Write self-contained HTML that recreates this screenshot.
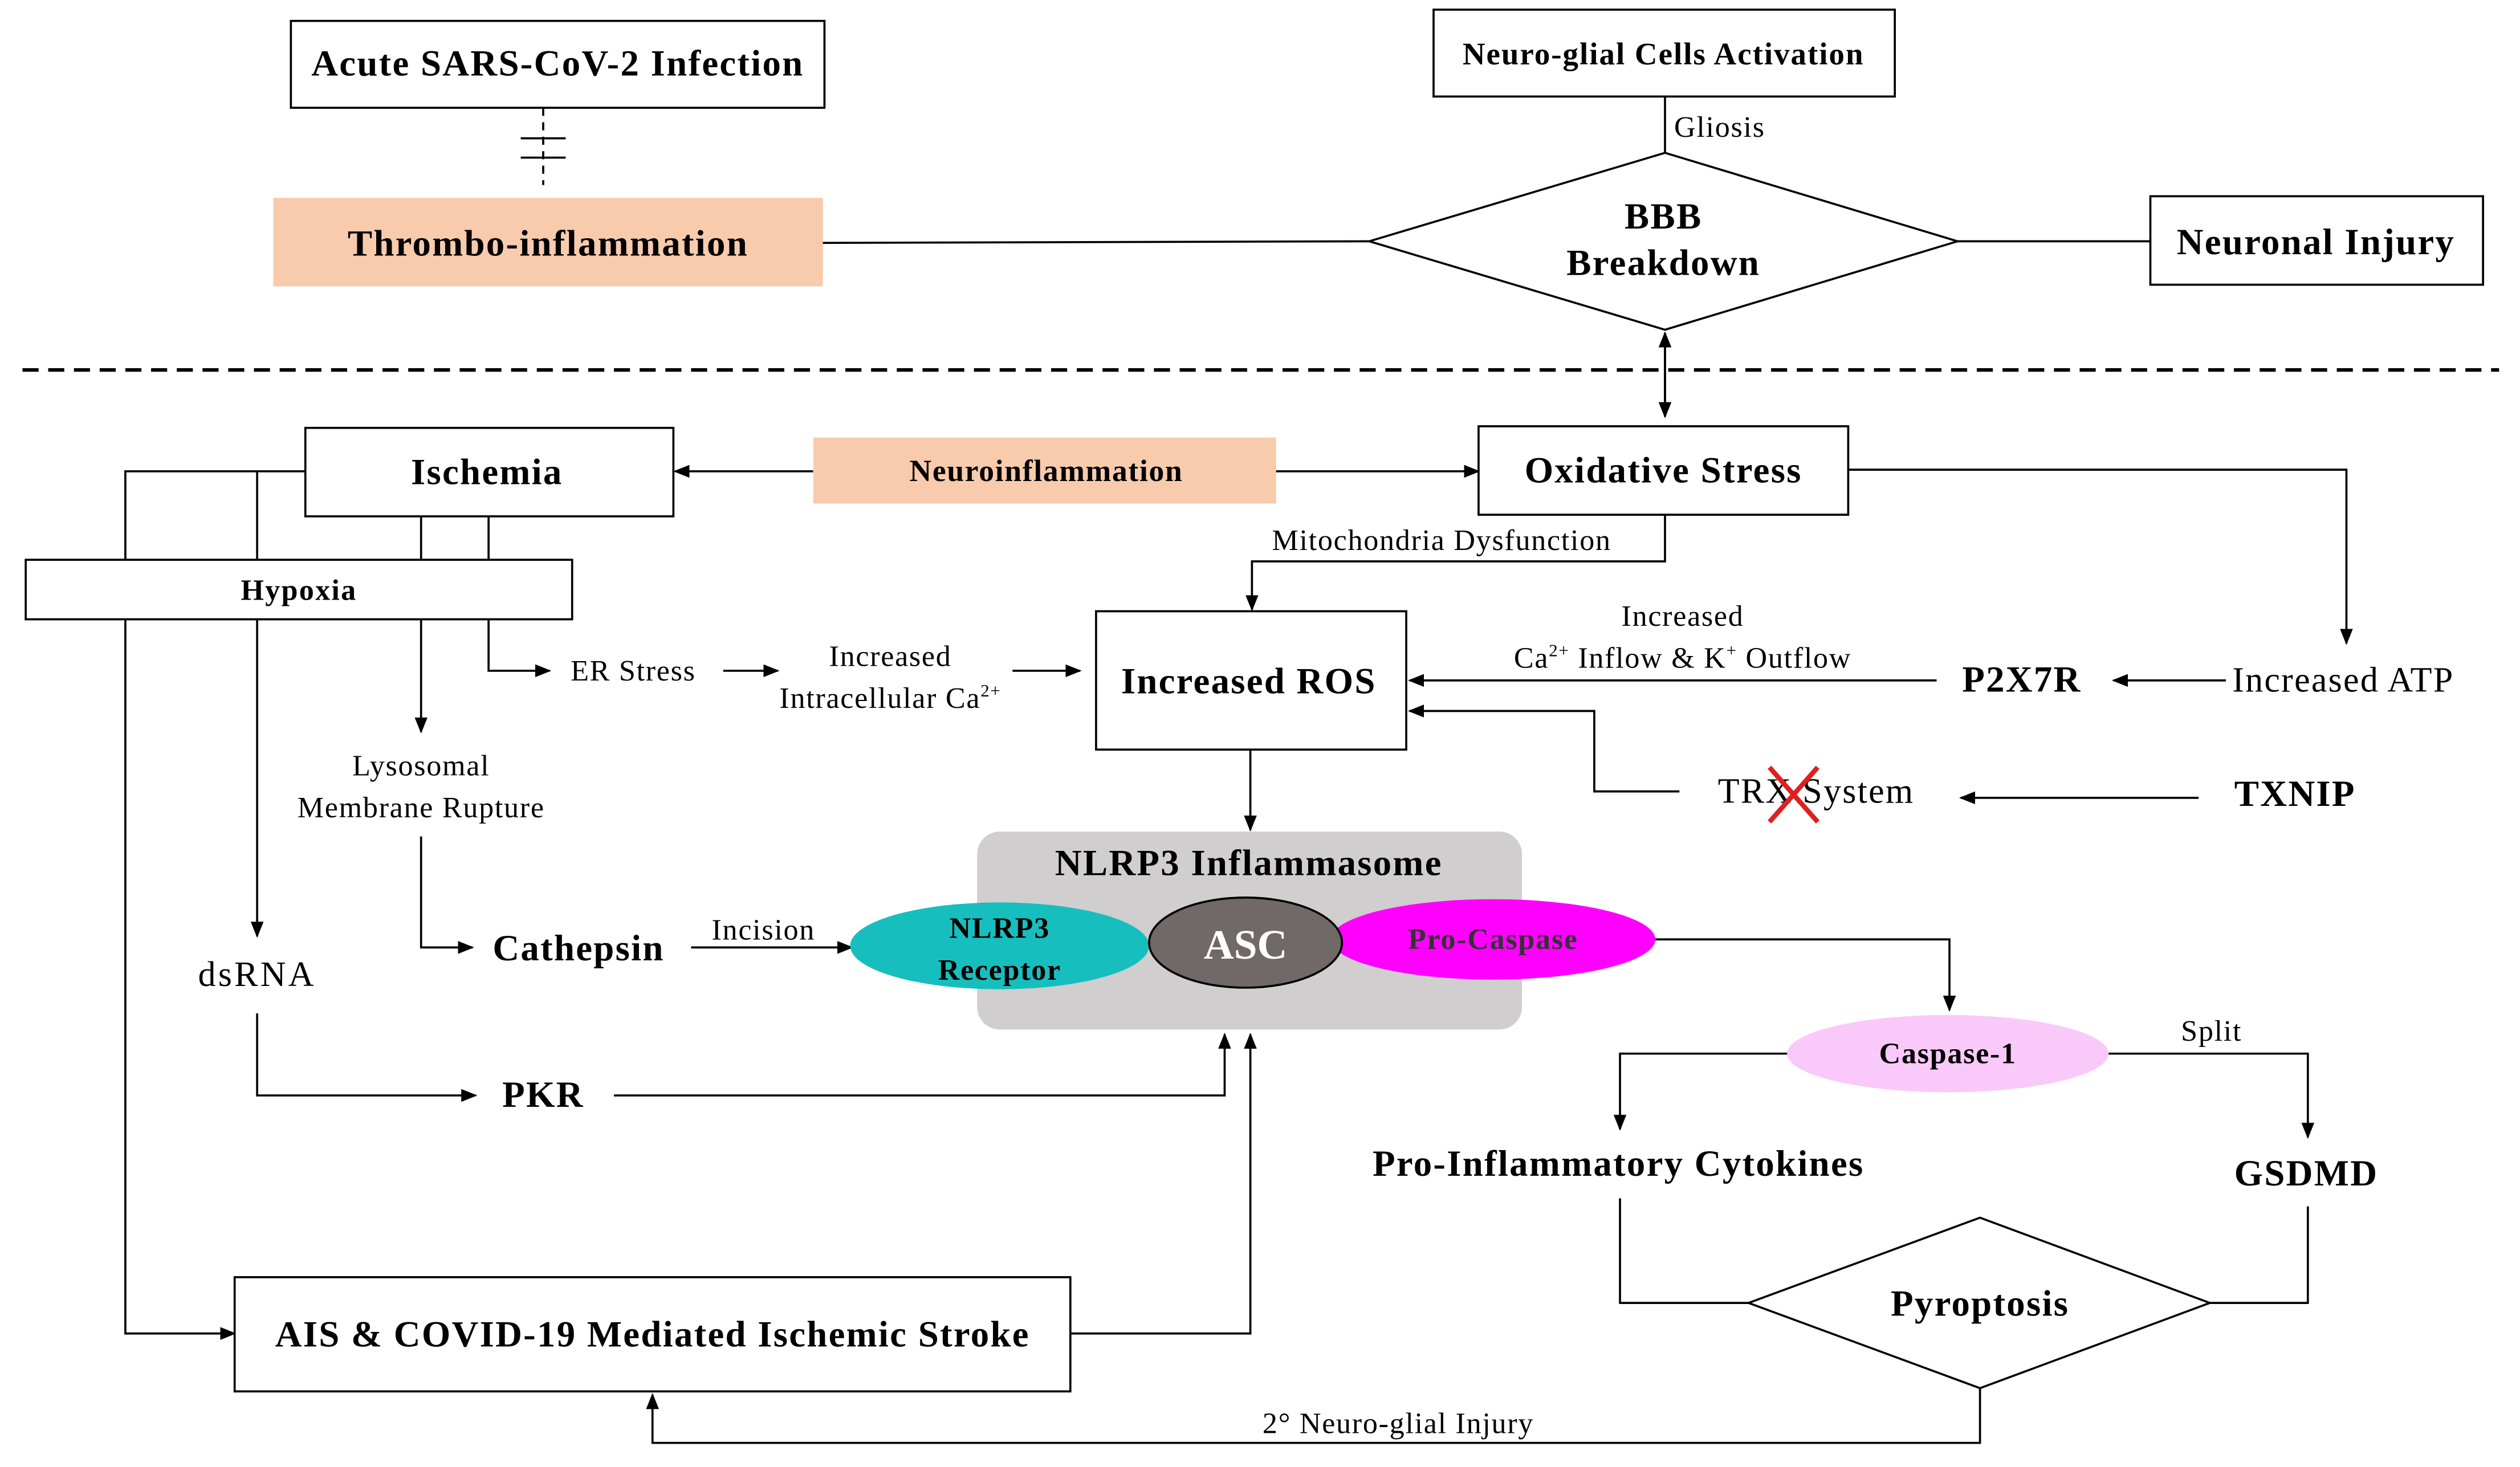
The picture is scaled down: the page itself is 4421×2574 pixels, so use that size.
<!DOCTYPE html>
<html><head><meta charset="utf-8"><style>
html,body{margin:0;padding:0;background:#fff;}
svg{display:block;}
text{font-family:"Liberation Serif",serif;fill:#000;}
.b{font-weight:bold;font-size:23px;letter-spacing:0.8px;}
.s{font-size:18.5px;letter-spacing:0.6px;}
.m{font-size:22px;letter-spacing:0.8px;}
</style></head><body>
<svg width="4421" height="2574" viewBox="0 0 1568 912" preserveAspectRatio="none" xmlns="http://www.w3.org/2000/svg">
<defs><marker id="a" markerWidth="10" markerHeight="10" refX="9" refY="5" orient="auto" markerUnits="userSpaceOnUse"><path d="M0,1 L10,5 L0,9 z" fill="#000"/></marker></defs>
<g stroke="#000" stroke-width="1.3" fill="none">
<line x1="338" y1="67" x2="338" y2="115" stroke-dasharray="5,4"/>
<line x1="324" y1="86" x2="352" y2="86"/><line x1="324" y1="98" x2="352" y2="98"/>
<line x1="512" y1="151" x2="852" y2="150"/>
<line x1="1036" y1="60" x2="1036" y2="95"/>
<line x1="1218" y1="150" x2="1338" y2="150"/>
<line x1="14" y1="230" x2="1555" y2="230" stroke-dasharray="10,6" stroke-width="2.2"/>
<line x1="1036" y1="212" x2="1036" y2="259" marker-end="url(#a)"/>
<line x1="1036" y1="258" x2="1036" y2="207" marker-end="url(#a)"/>
<polyline points="190,293 78,293 78,829 146,829" marker-end="url(#a)"/>
<polyline points="160,293 160,582" marker-end="url(#a)"/>
<polyline points="262,321 262,455" marker-end="url(#a)"/>
<polyline points="304,321 304,417 342,417" marker-end="url(#a)"/>
<line x1="450" y1="417" x2="484" y2="417" marker-end="url(#a)"/>
<line x1="630" y1="417" x2="672" y2="417" marker-end="url(#a)"/>
<polyline points="262,520 262,589 294,589" marker-end="url(#a)"/>
<line x1="430" y1="589" x2="530" y2="589" marker-end="url(#a)"/>
<polyline points="160,630 160,681 296,681" marker-end="url(#a)"/>
<polyline points="382,681 762,681 762,643" marker-end="url(#a)"/>
<polyline points="666,829 778,829 778,643" marker-end="url(#a)"/>
<line x1="506" y1="293" x2="420" y2="293" marker-end="url(#a)"/>
<line x1="794" y1="293" x2="920" y2="293" marker-end="url(#a)"/>
<polyline points="1150,292 1460,292 1460,400" marker-end="url(#a)"/>
<polyline points="1036,320 1036,349 779,349 779,379" marker-end="url(#a)"/>
<line x1="1205" y1="423" x2="877" y2="423" marker-end="url(#a)"/>
<line x1="1385" y1="423" x2="1315" y2="423" marker-end="url(#a)"/>
<line x1="1368" y1="496" x2="1220" y2="496" marker-end="url(#a)"/>
<polyline points="1045,492 992,492 992,442 877,442" marker-end="url(#a)"/>
<line x1="778" y1="466" x2="778" y2="516" marker-end="url(#a)"/>
<polyline points="1030,584 1213,584 1213,628" marker-end="url(#a)"/>
<polyline points="1112,655 1008,655 1008,702" marker-end="url(#a)"/>
<polyline points="1312,655 1436,655 1436,707" marker-end="url(#a)"/>
<polyline points="1008,745 1008,810 1088,810"/>
<polyline points="1436,750 1436,810 1375,810"/>
<polyline points="1232,863 1232,897 406,897 406,867" marker-end="url(#a)"/>
</g>
<g stroke="#000" stroke-width="1.3" fill="#fff">
<rect x="181" y="13" width="332" height="54"/>
<rect x="170" y="123" width="342" height="55" fill="#F8CBAD" stroke="none"/>
<rect x="892" y="6" width="287" height="54"/>
<polygon points="852,150 1036,95 1218,150 1036,205"/>
<rect x="1338" y="122" width="207" height="55"/>
<rect x="190" y="266" width="229" height="55"/>
<rect x="506" y="272" width="288" height="41" fill="#F8CBAD" stroke="none"/>
<rect x="920" y="265" width="230" height="55"/>
<rect x="16" y="348" width="340" height="37"/>
<rect x="682" y="380" width="193" height="86"/>
<rect x="608" y="517" width="339" height="123" rx="14" fill="#D0CECE" stroke="none"/>
<ellipse cx="622" cy="588" rx="93" ry="27" fill="#17BEBE" stroke="none"/>
<ellipse cx="929" cy="584" rx="101" ry="25" fill="#FF00FF" stroke="none"/>
<ellipse cx="775" cy="586" rx="60" ry="28" fill="#716868"/>
<ellipse cx="1212" cy="655" rx="100" ry="24" fill="#F9C9F9" stroke="none"/>
<polygon points="1088,810 1232,757 1375,810 1232,863"/>
<rect x="146" y="794" width="520" height="71"/>
</g>
<g text-anchor="middle">
<text x="347" y="47" class="b">Acute SARS-CoV-2 Infection</text>
<text x="341" y="159" class="b">Thrombo-inflammation</text>
<text x="1035" y="40" style="font-weight:bold;font-size:19.5px;letter-spacing:0.7px">Neuro-glial  Cells Activation</text>
<text x="1070" y="85" class="s">Gliosis</text>
<text x="1035" y="142" class="b">BBB</text>
<text x="1035" y="171" class="b">Breakdown</text>
<text x="1441" y="158" class="b">Neuronal Injury</text>
<text x="303" y="301" class="b">Ischemia</text>
<text x="651" y="299" style="font-weight:bold;font-size:19px;letter-spacing:0.6px">Neuroinflammation</text>
<text x="1035" y="300" class="b">Oxidative Stress</text>
<text x="186" y="373" style="font-weight:bold;font-size:18.5px;letter-spacing:0.8px">Hypoxia</text>
<text x="897" y="342" class="s">Mitochondria  Dysfunction</text>
<text x="394" y="423" class="s">ER Stress</text>
<text x="554" y="414" class="s">Increased</text>
<text x="554" y="440" class="s">Intracellular  Ca<tspan font-size="11" dy="-7">2+</tspan></text>
<text x="777" y="431" class="b">Increased ROS</text>
<text x="1047" y="389" class="s">Increased</text>
<text x="1047" y="415" class="s">Ca<tspan font-size="11" dy="-7">2+</tspan><tspan dy="7"> Inflow  &amp; K</tspan><tspan font-size="11" dy="-7">+</tspan><tspan dy="7"> Outflow</tspan></text>
<text x="1258" y="430" class="b">P2X7R</text>
<text x="1458" y="430" class="m">Increased ATP</text>
<text x="1130" y="499" class="m">TRX System</text>
<text x="1428" y="501" class="b">TXNIP</text>
<text x="262" y="482" class="s">Lysosomal</text>
<text x="262" y="508" class="s">Membrane  Rupture</text>
<text x="777" y="544" class="b">NLRP3 Inflammasome</text>
<text x="360" y="597" class="b">Cathepsin</text>
<text x="475" y="584" class="s">Incision</text>
<text x="160" y="613" style="font-size:22px;letter-spacing:1.5px">dsRNA</text>
<text x="622" y="583" style="font-weight:bold;font-size:18.5px;letter-spacing:0.6px">NLRP3</text>
<text x="622" y="609" style="font-weight:bold;font-size:18.5px;letter-spacing:0.6px">Receptor</text>
<text x="775" y="596" style="font-weight:bold;font-size:26px;fill:#fff">ASC</text>
<text x="929" y="590" style="font-weight:bold;font-size:18.5px;letter-spacing:0.6px;fill:#333">Pro-Caspase</text>
<text x="1212" y="661" style="font-weight:bold;font-size:18.5px;letter-spacing:0.6px">Caspase-1</text>
<text x="1376" y="647" class="s">Split</text>
<text x="338" y="688" class="b">PKR</text>
<text x="1007" y="731" class="b">Pro-Inflammatory Cytokines</text>
<text x="1435" y="737" class="b">GSDMD</text>
<text x="1232" y="818" class="b">Pyroptosis</text>
<text x="406" y="837" class="b">AIS &amp; COVID-19 Mediated Ischemic Stroke</text>
<text x="870" y="891" class="s">2° Neuro-glial  Injury</text>
</g>
<g stroke="#E02020" stroke-width="3"><line x1="1101" y1="477" x2="1131" y2="511"/><line x1="1131" y1="477" x2="1101" y2="511"/></g>
</svg>
</body></html>
